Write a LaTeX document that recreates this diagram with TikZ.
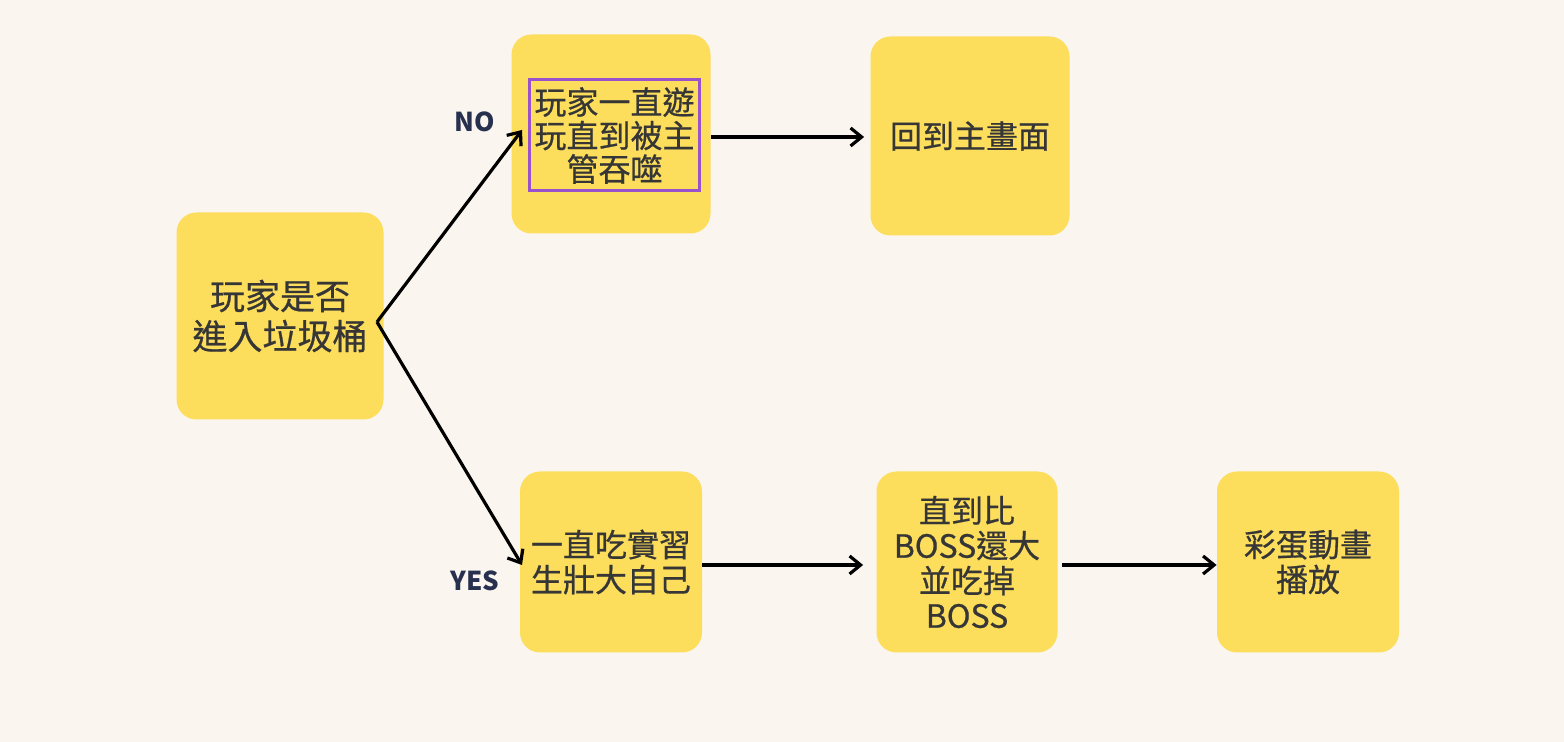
\documentclass[tikz,border=0pt]{standalone}
\usepackage{fontspec}
\setmainfont{Noto Sans CJK TC}
\newfontfamily\boxfont{Noto Sans CJK TC}[FakeBold=0.6]
\usetikzlibrary{arrows.meta}
\definecolor{bgcream}{HTML}{FAF6EF}
\definecolor{boxyellow}{HTML}{FCDD5C}
\definecolor{txtgray}{HTML}{363636}
\definecolor{lblnavy}{HTML}{28304F}
\definecolor{markpurple}{HTML}{9A52CC}
\tikzset{
	stepbox/.style={fill=boxyellow, rounded corners=10pt, text=txtgray, align=center, inner sep=0pt, font=\boxfont\fontsize{16}{17.5}\selectfont},
	flow/.style={-{Straight Barb[length=5.5pt,width=9pt]}, line width=1.6pt, black},
	answer/.style={text=lblnavy, font=\fontsize{13}{15}\selectfont\bfseries}
}
\begin{document}
\begin{tikzpicture}[x=0.5pt, y=-0.5pt]
	\fill[bgcream] (0,0) rectangle (1564,742);
	\useasboundingbox (0,0) rectangle (1564,742);
	
	\node[stepbox, minimum width=103.5pt, minimum height=103.5pt, font=\boxfont\fontsize{17.5}{20}\selectfont] (start) at (280,316) {玩家是否\\進入垃圾桶};
	
	\node[stepbox, minimum width=99.5pt, minimum height=99.5pt] (swallow) at (611,134) {};
	\node[draw=markpurple, line width=1.5pt, align=center, text=txtgray, minimum width=85pt, minimum height=55.5pt, inner sep=0pt, font=\boxfont\fontsize{16}{16.75}\selectfont] (swallowTxt) at (614.5,135.5) {玩家一直遊\\玩直到被主\\管吞噬};
	\node[stepbox, minimum width=99.5pt, minimum height=99.5pt] (menu) at (970,136) {回到主畫面};
	
	\node[stepbox, minimum width=91pt, minimum height=90.5pt] (grow) at (611,562) {一直吃實習\\生壯大自己};
	\node[stepbox, minimum width=90.5pt, minimum height=90.5pt] (boss) at (967,562) {直到比\\BOSS還大\\並吃掉\\BOSS};
	\node[stepbox, minimum width=91pt, minimum height=90.5pt] (egg) at (1308,562) {彩蛋動畫\\播放};
	
	\coordinate (fork) at (377,322);
	\coordinate (noEnd) at (522,130);
	\coordinate (yesEnd) at (522,565);
	
	\draw[flow] (fork) -- (noEnd);
	\draw[flow] (fork) -- (yesEnd);
	\draw[flow, shorten >=3pt] (swallow.east |- 0,137) -- (menu.west |- 0,137);
	\draw[flow, shorten >=6.5pt] (grow.east |- 0,565) -- (boss.west |- 0,565);
	\draw[flow, shorten <=2pt] (boss.east |- 0,565) -- (egg.west |- 0,565);
	
	\node[answer] (noLbl) at (475,122) {NO};
	\node[answer] (yesLbl) at (475,581) {YES};
	
\end{tikzpicture}
\end{document}
